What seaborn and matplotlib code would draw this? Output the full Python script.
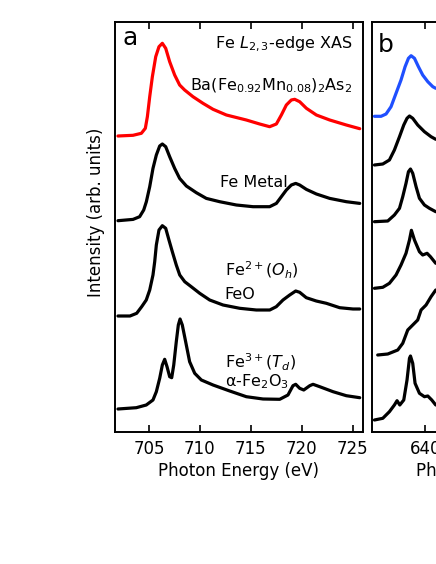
import numpy as np
import pandas as pd
import matplotlib
matplotlib.use("Agg")
import matplotlib.pyplot as plt
import seaborn as sns

# ---- panel a: Fe L2,3-edge XAS (energy in eV, intensity relative to own baseline)
bafemnas_energy = [701.95, 703.43, 704.25, 704.64, 704.84, 705.07, 705.33, 705.66, 705.98, 706.31,
                   706.64, 707.03, 707.52, 708.01, 708.50, 709.32, 710.30, 711.29, 712.60, 714.56,
                   715.87, 716.85, 717.51, 718.00, 718.49, 718.98, 719.31, 719.80, 720.46, 721.44,
                   722.75, 724.38, 725.70]
bafemnas_int = [0.00, 0.007, 0.027, 0.077, 0.193, 0.393, 0.593, 0.793, 0.893, 0.927,
                0.877, 0.743, 0.61, 0.51, 0.46, 0.393, 0.327, 0.267, 0.21, 0.16,
                0.12, 0.093, 0.12, 0.21, 0.31, 0.36, 0.367, 0.343, 0.277, 0.21,
                0.16, 0.11, 0.073]

femetal_energy = [701.95, 703.43, 704.08, 704.48, 704.74, 705.07, 705.39, 705.72, 706.05, 706.31,
                  706.64, 707.03, 707.52, 708.01, 708.67, 709.65, 710.63, 711.94, 713.58, 715.22,
                  716.85, 717.51, 718.00, 718.49, 718.98, 719.41, 719.80, 720.46, 721.44, 722.75,
                  724.38, 725.70]
femetal_int = [0.00, 0.013, 0.04, 0.107, 0.19, 0.34, 0.523, 0.657, 0.747, 0.767,
               0.74, 0.64, 0.523, 0.423, 0.347, 0.28, 0.223, 0.19, 0.157, 0.14,
               0.14, 0.173, 0.24, 0.307, 0.357, 0.373, 0.357, 0.313, 0.267, 0.223,
               0.19, 0.173]

feo_energy = [701.95, 703.13, 703.79, 704.28, 704.73, 705.07, 705.39, 705.56, 705.72, 705.98,
              706.31, 706.64, 706.96, 707.29, 707.68, 708.02, 708.51, 709.15, 709.98, 710.96,
              712.27, 713.91, 715.54, 716.86, 717.50, 718.16, 718.82, 719.41, 719.80, 720.45,
              721.43, 722.42, 723.73, 725.04, 725.70]
feo_int = [0.00, 0.00, 0.027, 0.093, 0.16, 0.26, 0.41, 0.543, 0.71, 0.86,
           0.903, 0.877, 0.76, 0.643, 0.51, 0.41, 0.343, 0.293, 0.227, 0.16,
           0.11, 0.077, 0.06, 0.06, 0.093, 0.16, 0.21, 0.25, 0.237, 0.183,
           0.15, 0.127, 0.083, 0.07, 0.07]

fe2o3_energy = [701.95, 703.75, 704.73, 705.39, 705.72, 706.05, 706.31, 706.54, 706.77, 707.03,
                707.23, 707.43, 707.68, 707.88, 708.05, 708.27, 708.60, 708.99, 709.49, 710.14,
                711.29, 712.93, 714.56, 716.20, 717.84, 718.65, 719.14, 719.41, 719.80, 720.20,
                720.79, 721.11, 721.77, 723.08, 724.38, 725.70]
fe2o3_int = [0.00, 0.013, 0.04, 0.09, 0.173, 0.307, 0.44, 0.497, 0.423, 0.323,
             0.313, 0.44, 0.673, 0.84, 0.90, 0.84, 0.673, 0.473, 0.357, 0.29,
             0.24, 0.18, 0.123, 0.10, 0.097, 0.14, 0.233, 0.247, 0.207, 0.19,
             0.233, 0.247, 0.223, 0.173, 0.133, 0.113]

fe_offsets = [2.96, 2.113, 1.16, 0.23]

# ---- panel b: Mn L-edge spectra (only the left part is inside the picture)
mn_energy_blue = [634.99, 635.64, 636.13, 636.62, 637.11, 637.60, 638.00, 638.33, 638.59, 638.92,
                  639.31, 639.73, 640.23, 640.72, 641.01]
mn_int_blue = [0.00, 0.00, 0.023, 0.096, 0.23, 0.363, 0.496, 0.58, 0.606, 0.58,
               0.496, 0.413, 0.346, 0.296, 0.28]

mn_energy_1 = [634.99, 635.81, 636.46, 636.95, 637.45, 637.87, 638.19, 638.43, 638.75, 639.24,
               639.90, 640.55, 641.01]
mn_int_1 = [0.00, 0.01, 0.05, 0.15, 0.283, 0.40, 0.467, 0.49, 0.467, 0.40, 0.333, 0.283, 0.257]

mn_energy_2 = [634.99, 636.30, 636.95, 637.45, 637.77, 638.09, 638.33, 638.53, 638.75, 639.08,
               639.41, 639.90, 640.39, 641.01]
mn_int_2 = [0.00, 0.007, 0.067, 0.134, 0.25, 0.384, 0.50, 0.527, 0.484, 0.35,
            0.234, 0.167, 0.134, 0.10]

mn_energy_3 = [634.99, 635.81, 636.46, 637.11, 637.60, 638.09, 638.43, 638.62, 638.92, 639.41,
               639.73, 640.16, 640.49, 641.01]
mn_int_3 = [0.00, 0.01, 0.05, 0.133, 0.233, 0.35, 0.483, 0.58, 0.483, 0.366,
            0.333, 0.35, 0.316, 0.25]

mn_energy_4 = [635.31, 636.30, 637.28, 637.77, 638.26, 638.75, 639.24, 639.57, 640.06, 640.55, 641.01]
mn_int_4 = [0.00, 0.01, 0.05, 0.117, 0.25, 0.30, 0.35, 0.45, 0.50, 0.583, 0.65]

mn_energy_5 = [634.99, 635.81, 636.46, 636.95, 637.21, 637.48, 637.87, 638.19, 638.43, 638.53,
               638.75, 638.98, 639.41, 639.90, 640.23, 640.62, 641.01]
mn_int_5 = [0.00, 0.017, 0.083, 0.15, 0.193, 0.15, 0.20, 0.40, 0.617, 0.64,
            0.567, 0.367, 0.267, 0.233, 0.24, 0.20, 0.15]

mn_offsets = [3.157, 2.67, 2.103, 1.437, 0.77, 0.12]

sns.set_theme(style="ticks")
plt.rcParams['font.family'] = ['DejaVu Sans']
plt.rcParams['mathtext.fontset'] = 'dejavusans'
plt.rcParams['text.color'] = 'black'
plt.rcParams['axes.labelcolor'] = 'black'
plt.rcParams['xtick.color'] = 'black'

W, H = 436, 564
fig = plt.figure(figsize=(W / 100, H / 100), dpi=100)
ax_a = fig.add_axes([115 / W, (H - 432) / H, 248 / W, 410 / H])
ax_b = fig.add_axes([372 / W, (H - 432) / H, 248 / W, 410 / H])

fe_curves = [(bafemnas_energy, bafemnas_int, "#ff0000"),
             (femetal_energy, femetal_int, "black"),
             (feo_energy, feo_int, "black"),
             (fe2o3_energy, fe2o3_int, "black")]
for (e, i, c), off in zip(fe_curves, fe_offsets):
    df = pd.DataFrame({"energy": e, "intensity": np.array(i) + off})
    sns.lineplot(data=df, x="energy", y="intensity", ax=ax_a, color=c, lw=2.3,
                 sort=False, estimator=None, solid_joinstyle="round", solid_capstyle="round")

mn_curves = [(mn_energy_blue, mn_int_blue, "#1f4fff"),
             (mn_energy_1, mn_int_1, "black"),
             (mn_energy_2, mn_int_2, "black"),
             (mn_energy_3, mn_int_3, "black"),
             (mn_energy_4, mn_int_4, "black"),
             (mn_energy_5, mn_int_5, "black")]
for (e, i, c), off in zip(mn_curves, mn_offsets):
    df = pd.DataFrame({"energy": e, "intensity": np.array(i) + off})
    sns.lineplot(data=df, x="energy", y="intensity", ax=ax_b, color=c, lw=2.3,
                 sort=False, estimator=None, solid_joinstyle="round", solid_capstyle="round")

ax_a.set_xlim(701.66, 726.02)
ax_b.set_xlim(634.75, 659.11)
for ax in (ax_a, ax_b):
    ax.set_ylim(0, 4.10)
    ax.set_yticks([])
    ax.set_xlabel("Photon Energy (eV)", fontsize=12, color="black", labelpad=3)
    ax.set_ylabel("")
    for s in ax.spines.values():
        s.set_linewidth(1.4)
        s.set_color("black")
    ax.tick_params(axis="x", direction="in", top=True, bottom=True, length=5, width=1.2,
                   labelsize=12, pad=6, colors="black")
ax_a.set_xticks([705, 710, 715, 720, 725])
ax_b.set_xticks([640, 645, 650, 655])
ax_a.set_ylabel("Intensity (arb. units)", fontsize=12, color="black")
ax_a.yaxis.set_label_coords(-0.040, 0.537)

ax_a.text(0.032, 0.944, "a", transform=ax_a.transAxes, fontsize=18, va="baseline", ha="left")
ax_b.text(0.025, 0.928, "b", transform=ax_b.transAxes, fontsize=18, va="baseline", ha="left")
ax_a.text(0.956, 0.936, r"Fe $L_{2,3}$-edge XAS", transform=ax_a.transAxes, fontsize=11.5,
          va="baseline", ha="right")
ax_a.text(0.958, 0.834, r"Ba(Fe$_{0.92}$Mn$_{0.08}$)$_2$As$_2$", transform=ax_a.transAxes,
          fontsize=11.5, va="baseline", ha="right")
ax_a.text(0.422, 0.597, "Fe Metal", transform=ax_a.transAxes, fontsize=11.5, va="baseline")
ax_a.text(0.442, 0.379, r"Fe$^{2+}$($O_h$)", transform=ax_a.transAxes, fontsize=11.5, va="baseline")
ax_a.text(0.442, 0.324, "FeO", transform=ax_a.transAxes, fontsize=11.5, va="baseline")
ax_a.text(0.442, 0.155, r"Fe$^{3+}$($T_d$)", transform=ax_a.transAxes, fontsize=11.5, va="baseline")
ax_a.text(0.442, 0.112, r"α-Fe$_2$O$_3$", transform=ax_a.transAxes, fontsize=11.5, va="baseline")

fig.savefig("out.png", dpi=100, facecolor="white")
